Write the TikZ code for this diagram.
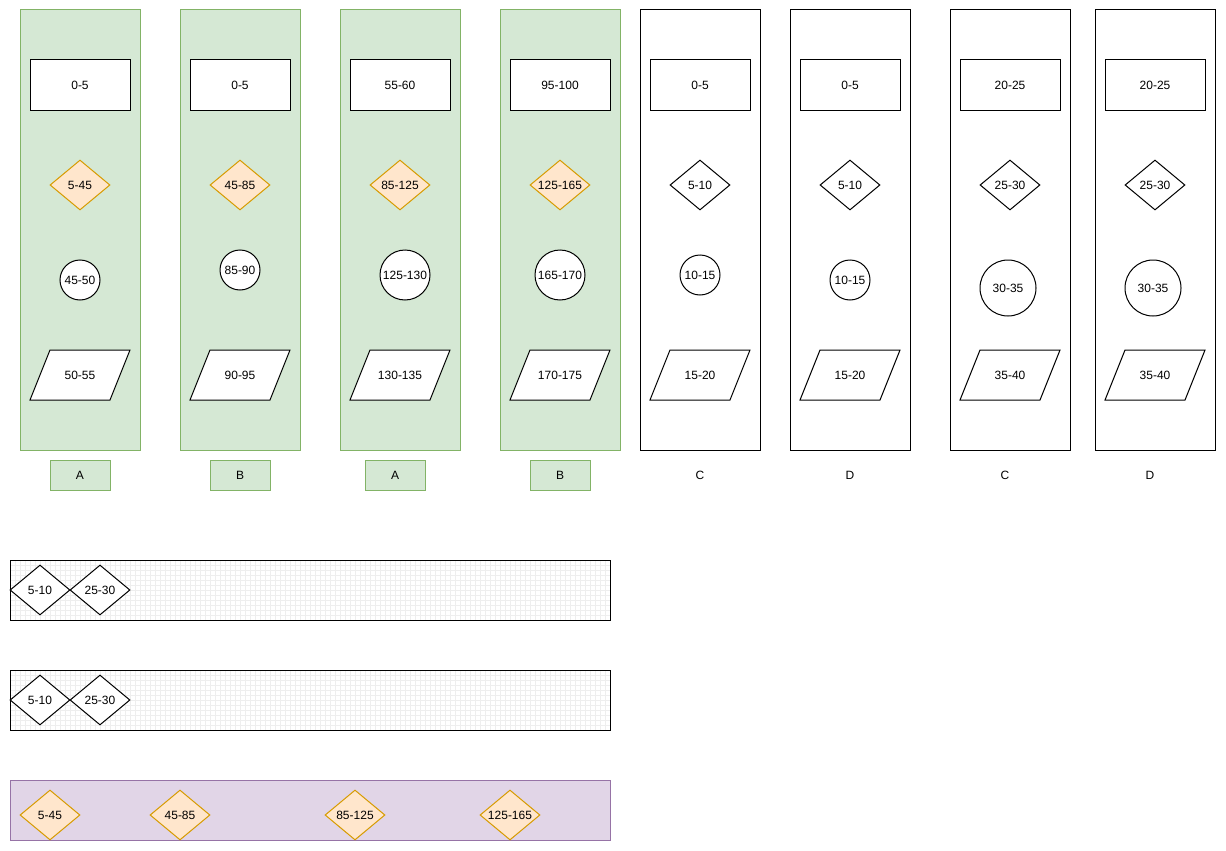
\documentclass[tikz,border=0pt]{standalone}
\usepackage{fontspec}
\setmainfont{Liberation Sans}
\usepackage{tikz}
\usetikzlibrary{shapes.geometric}

\definecolor{greenfill}{HTML}{D5E8D4}
\definecolor{greenline}{HTML}{82B366}
\definecolor{orangefill}{HTML}{FFE6CC}
\definecolor{orangeline}{HTML}{D79B00}
\definecolor{purplefill}{HTML}{E1D5E7}
\definecolor{purpleline}{HTML}{9673A6}
\definecolor{gridline}{HTML}{EEEEEE}

\begin{document}
\begin{tikzpicture}[x=1pt,y=-1pt,line width=1pt,
  every node/.style={font=\fontsize{12}{14}\selectfont,inner sep=0pt},
  lane/.style={draw=greenline,fill=greenfill,minimum width=120,minimum height=440},
  plainlane/.style={draw=black,fill=white,minimum width=120,minimum height=440},
  tag/.style={draw=greenline,fill=greenfill,minimum width=60,minimum height=30},
  box/.style={draw=black,fill=white,minimum width=100,minimum height=50},
  gate/.style={diamond,aspect=1.2,draw=black,fill=white,minimum width=60,minimum height=50},
  hotgate/.style={gate,draw=orangeline,fill=orangefill},
  ring/.style={circle,draw=black,fill=white,minimum size=#1},
  slant/.style={draw=black,fill=white},
  strip/.style={draw=black,minimum width=600,minimum height=60},
  purplestrip/.style={draw=purpleline,fill=purplefill,minimum width=600,minimum height=60}]
\useasboundingbox (0,0) rectangle (1226,851);
% green lanes:
\node[lane] (laneA) at (80,230) {};
\node[box] (boxA) at (80,85) {0-5};
\node[hotgate] (gateA) at (80,185) {5-45};
\node[ring=40] (ringA) at (80,280) {45-50};
\path[slant,shift={(80,375)}] (-50,25) -- (30,25) -- (50,-25) -- (-30,-25) -- cycle;
\node (slantA) at (80,375) {50-55};
\node[tag] (tagA) at (80,475) {A};

\node[lane] (laneB) at (240,230) {};
\node[box] (boxB) at (240,85) {0-5};
\node[hotgate] (gateB) at (240,185) {45-85};
\node[ring=40] (ringB) at (240,270) {85-90};
\path[slant,shift={(240,375)}] (-50,25) -- (30,25) -- (50,-25) -- (-30,-25) -- cycle;
\node (slantB) at (240,375) {90-95};
\node[tag] (tagB) at (240,475) {B};

\node[lane] (laneAA) at (400,230) {};
\node[box] (boxAA) at (400,85) {55-60};
\node[hotgate] (gateAA) at (400,185) {85-125};
\node[ring=50] (ringAA) at (405,275) {125-130};
\path[slant,shift={(400,375)}] (-50,25) -- (30,25) -- (50,-25) -- (-30,-25) -- cycle;
\node (slantAA) at (400,375) {130-135};
\node[tag] (tagAA) at (395,475) {A};

\node[lane] (laneBB) at (560,230) {};
\node[box] (boxBB) at (560,85) {95-100};
\node[hotgate] (gateBB) at (560,185) {125-165};
\node[ring=50] (ringBB) at (560,275) {165-170};
\path[slant,shift={(560,375)}] (-50,25) -- (30,25) -- (50,-25) -- (-30,-25) -- cycle;
\node (slantBB) at (560,375) {170-175};
\node[tag] (tagBB) at (560,475) {B};
% white lanes:
\node[plainlane] (laneC) at (700,230) {};
\node[box] (boxC) at (700,85) {0-5};
\node[gate] (gateC) at (700,185) {5-10};
\node[ring=40] (ringC) at (700,275) {10-15};
\path[slant,shift={(700,375)}] (-50,25) -- (30,25) -- (50,-25) -- (-30,-25) -- cycle;
\node (slantC) at (700,375) {15-20};
\node (tagC) at (700,475) {C};

\node[plainlane] (laneD) at (850,230) {};
\node[box] (boxD) at (850,85) {0-5};
\node[gate] (gateD) at (850,185) {5-10};
\node[ring=40] (ringD) at (850,280) {10-15};
\path[slant,shift={(850,375)}] (-50,25) -- (30,25) -- (50,-25) -- (-30,-25) -- cycle;
\node (slantD) at (850,375) {15-20};
\node (tagD) at (850,475) {D};

\node[plainlane] (laneCC) at (1010,230) {};
\node[box] (boxCC) at (1010,85) {20-25};
\node[gate] (gateCC) at (1010,185) {25-30};
\node[ring=56] (ringCC) at (1008,288) {30-35};
\path[slant,shift={(1010,375)}] (-50,25) -- (30,25) -- (50,-25) -- (-30,-25) -- cycle;
\node (slantCC) at (1010,375) {35-40};
\node (tagCC) at (1005,475) {C};

\node[plainlane] (laneDD) at (1155,230) {};
\node[box] (boxDD) at (1155,85) {20-25};
\node[gate] (gateDD) at (1155,185) {25-30};
\node[ring=56] (ringDD) at (1153,288) {30-35};
\path[slant,shift={(1155,375)}] (-50,25) -- (30,25) -- (50,-25) -- (-30,-25) -- cycle;
\node (slantDD) at (1155,375) {35-40};
\node (tagDD) at (1150,475) {D};
% strips at the bottom:
\foreach \x in {15,20,...,605} {
  \draw[gridline,line width=0.6pt] (\x,560) -- (\x,620);
  \draw[gridline,line width=0.6pt] (\x,670) -- (\x,730);
}
\foreach \y in {565,570,...,615} {
  \draw[gridline,line width=0.6pt] (10,\y) -- (610,\y);
  \draw[gridline,line width=0.6pt] (10,\y+110) -- (610,\y+110);
}
\node[strip] (stripOne) at (310,590) {};
\node[gate] (oneA) at (40,590) {5-10};
\node[gate] (oneB) at (100,590) {25-30};

\node[strip] (stripTwo) at (310,700) {};
\node[gate] (twoA) at (40,700) {5-10};
\node[gate] (twoB) at (100,700) {25-30};

\node[purplestrip] (stripThree) at (310,810) {};
\node[hotgate] (threeA) at (50,815) {5-45};
\node[hotgate] (threeB) at (180,815) {45-85};
\node[hotgate] (threeC) at (355,815) {85-125};
\node[hotgate] (threeD) at (510,815) {125-165};
\end{tikzpicture}
\end{document}
